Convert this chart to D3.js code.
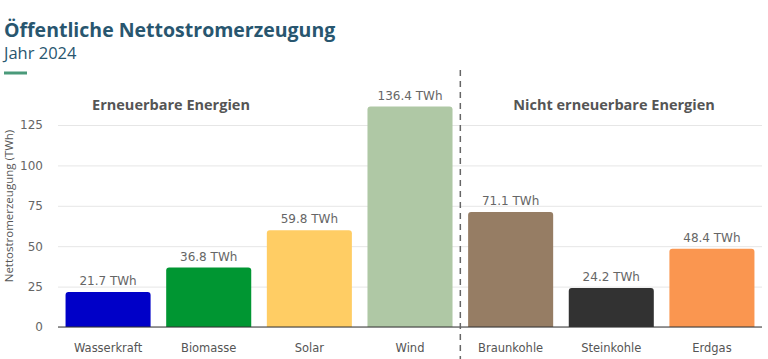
<!DOCTYPE html>
<html><head><meta charset="utf-8">
<script src="https://cdn.jsdelivr.net/npm/d3@7"></script>
<style>body{margin:0;background:#fff}svg{display:block}</style>
</head><body>
<svg id="c" width="768" height="359"></svg>
<script>
const categories = ["Wasserkraft","Biomasse","Solar","Wind","Braunkohle","Steinkohle","Erdgas"];
const values = [21.7, 36.8, 59.8, 136.4, 71.1, 24.2, 48.4];
const colors = ["#0000c8","#009632","#ffcd64","#afc8a5","#967d64","#323232","#fa9650"];
const groups = ["Erneuerbare Energien","Nicht erneuerbare Energien"];
const yTicks = [0,25,50,75,100,125];

const svg = d3.select("#c");
const x = d3.scaleBand().domain(categories).range([58,762]).paddingInner(0.155).paddingOuter(0.075);
const y = d3.scaleLinear().domain([0,125]).range([327,125]);

svg.append("text").attr("x",4).attr("y",37).attr("fill","#28566f")
  .style("font-family","'Open Sans',sans-serif").style("font-weight","700").style("font-size","19.5px")
  .text("Öffentliche Nettostromerzeugung");
svg.append("text").attr("x",4).attr("y",59).attr("fill","#28566f")
  .style("font-family","'Open Sans',sans-serif").style("font-size","16.5px").text("Jahr 2024");
svg.append("rect").attr("x",4).attr("y",71.5).attr("width",23).attr("height",3).attr("fill","#4a9a7a");

// grid
const ya = d3.axisLeft(y).tickValues(yTicks).tickSize(-(762-58)).tickPadding(15);
const g = svg.append("g").attr("transform","translate(58,0)").call(ya);
g.select(".domain").remove();
g.selectAll(".tick line").attr("stroke","#e6e6e6");
g.selectAll(".tick text").attr("fill","#666").style("font-family","'DejaVu Sans',sans-serif").style("font-size","12px");

svg.append("text").attr("transform","translate(13,206) rotate(-90)").attr("text-anchor","middle")
  .attr("fill","#555").style("font-family","'Open Sans',sans-serif").style("font-size","11.5px")
  .text("Nettostromerzeugung (TWh)");

// bars with rounded top
const r = 3;
svg.append("g").selectAll("path").data(categories).join("path")
  .attr("fill",(d,i)=>colors[i])
  .attr("d",(d,i)=>{
    const x0 = x(d), w = x.bandwidth(), y0 = y(values[i]), y1 = y(0);
    return `M${x0},${y1}V${y0+r}Q${x0},${y0} ${x0+r},${y0}H${x0+w-r}Q${x0+w},${y0} ${x0+w},${y0+r}V${y1}Z`;
  });

// value labels
svg.append("g").selectAll("text").data(categories).join("text")
  .attr("x",d=>x(d)+x.bandwidth()/2).attr("y",(d,i)=>y(values[i])-7)
  .attr("text-anchor","middle").attr("fill","#666")
  .style("font-family","'DejaVu Sans',sans-serif").style("font-size","12px")
  .text((d,i)=>values[i].toFixed(1)+" TWh");

// baseline
svg.append("line").attr("x1",58).attr("x2",762).attr("y1",y(0)).attr("y2",y(0)).attr("stroke","#333").attr("stroke-width",1);

// x labels
const xa = d3.axisBottom(x).tickSize(0).tickPadding(17);
const gx = svg.append("g").attr("transform",`translate(0,${y(0)})`).call(xa);
gx.select(".domain").remove();
gx.selectAll(".tick text").attr("fill","#555").style("font-family","'DejaVu Sans',sans-serif").style("font-size","11.5px");

// divider
const divX = (x("Wind")+x.bandwidth() + x("Braunkohle"))/2;
svg.append("line").attr("x1",divX).attr("x2",divX).attr("y1",70).attr("y2",359)
  .attr("stroke","#666").attr("stroke-width",1.5).attr("stroke-dasharray","6,5");

// group titles
svg.append("text").attr("x",171).attr("y",110).attr("text-anchor","middle").attr("fill","#555")
  .style("font-family","'Open Sans',sans-serif").style("font-weight","700").style("font-size","14.5px").text(groups[0]);
svg.append("text").attr("x",614).attr("y",110).attr("text-anchor","middle").attr("fill","#555")
  .style("font-family","'Open Sans',sans-serif").style("font-weight","700").style("font-size","14.5px").text(groups[1]);
</script>
</body></html>
